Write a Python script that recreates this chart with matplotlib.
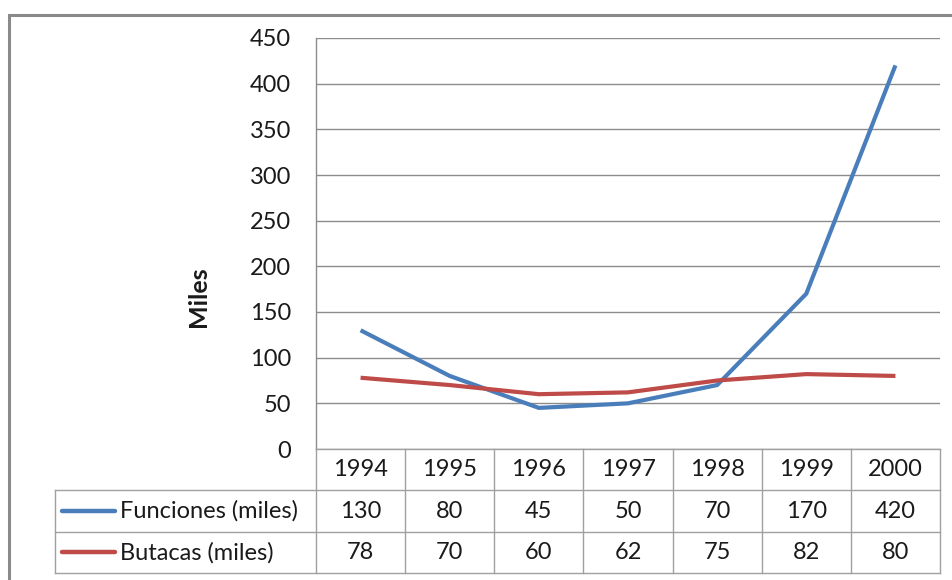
import matplotlib
matplotlib.use("Agg")
import matplotlib.pyplot as plt
from matplotlib.patches import Rectangle
from matplotlib.lines import Line2D

# Series data
years = ["1994", "1995", "1996", "1997", "1998", "1999", "2000"]
funciones = [130, 80, 45, 50, 70, 170, 420]
butacas = [78, 70, 60, 62, 75, 82, 80]
series_names = ["Funciones (miles)", "Butacas (miles)"]
y_ticks = [0, 50, 100, 150, 200, 250, 300, 350, 400, 450]

BLUE = "#4A7EBB"
RED = "#BE4B48"
GRID = "#8C8C8C"
TABLE_LINE = "#A0A0A0"
TEXT = "#1A1A1A"
FS = 17

plt.rcParams["font.family"] = ["Lato", "DejaVu Sans"]

W, H = 953, 580
fig = plt.figure(figsize=(W / 100, H / 100), dpi=100)

# Outer chart frame (runs off the right and bottom edges)
fig.patches.append(Rectangle((9 / W, -0.05), 1.0, 1.05 - 15 / H,
                             transform=fig.transFigure, fill=False,
                             edgecolor="#8A8A8A", lw=2.2, zorder=0))

# Plot area
px_left, px_right, px_top, px_bottom = 316, 940, 38, 449
ax = fig.add_axes([px_left / W, 1 - px_bottom / H,
                   (px_right - px_left) / W, (px_bottom - px_top) / H])
n = len(years)
x = list(range(n))
ax.set_xlim(-0.5, n - 0.5)
ax.set_ylim(0, 450)
ax.set_yticks(y_ticks)
ax.set_yticklabels([str(v) for v in y_ticks])
ax.set_xticks([])
ax.tick_params(axis="y", length=0, pad=18, labelsize=FS, labelcolor=TEXT)
ax.grid(axis="y", color=GRID, lw=1.0)
ax.set_axisbelow(True)
for side in ("top", "right", "bottom"):
    ax.spines[side].set_visible(False)
ax.spines["left"].set_color(GRID)
ax.spines["left"].set_linewidth(1.0)

ax.plot(x, funciones, color=BLUE, lw=3.0, solid_capstyle="butt", zorder=3)
ax.plot(x, butacas, color=RED, lw=3.0, solid_capstyle="butt", zorder=3)

fig.text(199 / W, 1 - 297 / H, "Miles", rotation=90, ha="center", va="center",
         fontsize=18, fontweight="bold", color=TEXT)

# Data table under the plot area, columns aligned with the categories
tb_left, tb_top, tb_bottom = 55, 449, 573
unit = (px_right - px_left) / n
x_left = -0.5 - (px_left - tb_left) / unit
tax = fig.add_axes([tb_left / W, 1 - tb_bottom / H,
                    (px_right - tb_left) / W, (tb_bottom - tb_top) / H])
tax.set_xlim(x_left, n - 0.5)
tax.set_ylim(3, 0)
tax.axis("off")

def seg(xs, ys):
    tax.add_line(Line2D(xs, ys, color=TABLE_LINE, lw=1.0, clip_on=False))

seg([-0.5, n - 0.5], [0, 0])
for r in (1, 2, 3):
    seg([x_left, n - 0.5], [r, r])
seg([x_left, x_left], [1, 3])
for i in range(n + 1):
    seg([i - 0.5, i - 0.5], [0, 3])

for i, yr in enumerate(years):
    tax.text(i, 0.5, yr, ha="center", va="center", fontsize=FS, color=TEXT)
for row, (vals, color, name) in enumerate(
        [(funciones, BLUE, series_names[0]), (butacas, RED, series_names[1])], start=1):
    for i, v in enumerate(vals):
        tax.text(i, row + 0.5, str(v), ha="center", va="center",
                 fontsize=FS, color=TEXT)
    k0 = x_left + (62 - tb_left) / unit
    k1 = x_left + (115 - tb_left) / unit
    tax.add_line(Line2D([k0, k1], [row + 0.5, row + 0.5], color=color,
                        lw=3.2, solid_capstyle="round"))
    tax.text(x_left + (120 - tb_left) / unit, row + 0.5, name, ha="left",
             va="center", fontsize=FS, color=TEXT)

fig.savefig("out.png", dpi=100)
